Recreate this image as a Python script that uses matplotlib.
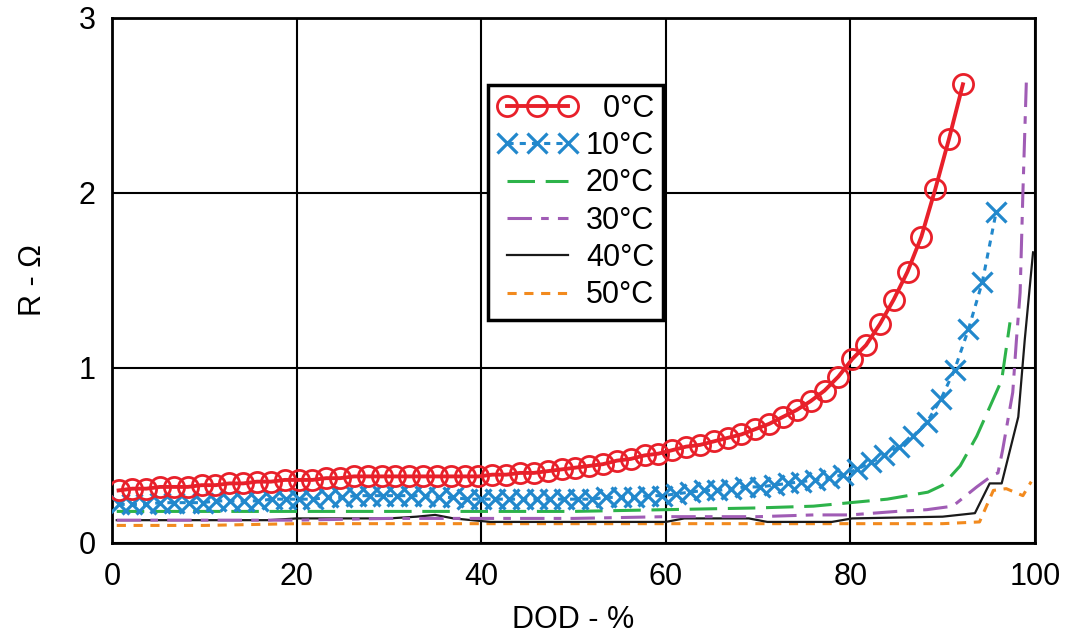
import matplotlib
matplotlib.use("Agg")
import matplotlib.pyplot as plt

plt.rcParams["font.family"] = ["Liberation Sans", "DejaVu Sans"]

# 0 degC
x_0c = [0.7, 2.2, 3.7, 5.2, 6.7, 8.2, 9.7, 11.2, 12.7, 14.2, 15.7, 17.2, 18.7, 20.2, 21.7,
        23.2, 24.7, 26.2, 27.7, 29.2, 30.7, 32.2, 33.7, 35.2, 36.7, 38.2, 39.7, 41.2, 42.7,
        44.2, 45.7, 47.2, 48.7, 50.2, 51.7, 53.2, 54.7, 56.2, 57.7, 59.2, 60.7, 62.2, 63.7,
        65.2, 66.7, 68.2, 69.7, 71.2, 72.7, 74.2, 75.7, 77.2, 78.7, 80.2, 81.7, 83.2, 84.7,
        86.2, 87.7, 89.2, 90.7, 92.2]
r_0c = [0.30, 0.31, 0.31, 0.32, 0.32, 0.32, 0.33, 0.33, 0.34, 0.34, 0.35, 0.35, 0.36, 0.36, 0.36,
        0.37, 0.37, 0.38, 0.38, 0.38, 0.38, 0.38, 0.38, 0.38, 0.38, 0.38, 0.38, 0.39, 0.39,
        0.40, 0.40, 0.41, 0.42, 0.43, 0.44, 0.45, 0.47, 0.48, 0.50, 0.51, 0.53, 0.55, 0.56,
        0.58, 0.60, 0.62, 0.65, 0.68, 0.72, 0.76, 0.81, 0.87, 0.95, 1.05, 1.13, 1.25, 1.39,
        1.55, 1.75, 2.02, 2.31, 2.62]

# 10 degC
x_10c = [0.7, 2.2, 3.7, 5.2, 6.7, 8.3, 9.8, 11.3, 12.8, 14.3, 15.8, 17.3, 18.8, 20.3, 21.8,
         23.4, 24.9, 26.4, 27.9, 29.4, 30.9, 32.4, 33.9, 35.4, 36.9, 38.5, 40.0, 41.5, 43.0,
         44.5, 46.0, 47.5, 49.0, 50.5, 52.0, 53.5, 55.1, 56.6, 58.1, 59.6, 61.1, 62.6, 64.1,
         65.6, 67.1, 68.6, 70.2, 71.7, 73.2, 74.7, 76.2, 77.7, 79.2, 80.7, 82.2, 83.7, 85.3,
         86.8, 88.3, 89.8, 91.3, 92.8, 94.3, 95.8]
r_10c = [0.22, 0.22, 0.22, 0.23, 0.23, 0.23, 0.23, 0.24, 0.24, 0.24, 0.24, 0.25, 0.25, 0.25, 0.25,
         0.26, 0.26, 0.27, 0.27, 0.27, 0.27, 0.27, 0.27, 0.26, 0.26, 0.25, 0.25, 0.25, 0.25,
         0.25, 0.25, 0.25, 0.25, 0.25, 0.25, 0.26, 0.26, 0.26, 0.27, 0.27, 0.28, 0.29, 0.30,
         0.30, 0.31, 0.32, 0.32, 0.33, 0.34, 0.35, 0.36, 0.37, 0.39, 0.42, 0.46, 0.50, 0.55,
         0.61, 0.69, 0.82, 0.99, 1.22, 1.49, 1.89]

# 20 degC
x_20c = [0.5, 10, 20, 30, 40, 50, 60, 70, 76, 80, 84, 88.4, 90.0, 91.9, 93.7, 94.8, 96.4, 97.3]
r_20c = [0.18, 0.18, 0.18, 0.18, 0.18, 0.18, 0.19, 0.20, 0.21, 0.23, 0.25, 0.29, 0.33, 0.44,
         0.61, 0.74, 0.93, 1.26]

# 30 degC
x_30c = [0.5, 10, 20, 30, 40, 50, 60, 70, 76, 80, 85, 88.3, 91.1, 93.7, 95.5, 96.0, 96.5,
         97.6, 98.0, 98.4, 98.7, 99.1]
r_30c = [0.13, 0.13, 0.13, 0.14, 0.14, 0.14, 0.15, 0.15, 0.16, 0.16, 0.18, 0.19, 0.21, 0.32,
         0.39, 0.40, 0.53, 0.86, 1.16, 1.43, 2.00, 2.68]

# 40 degC
x_40c = [0.5, 10, 17, 20, 30, 33, 35, 37, 41, 50, 60, 62, 69, 71, 78, 80.2, 90, 93.5,
         95.1, 96.4, 98.2, 98.9, 99.8]
r_40c = [0.13, 0.13, 0.13, 0.14, 0.14, 0.15, 0.16, 0.14, 0.12, 0.12, 0.12, 0.14, 0.14, 0.12,
         0.12, 0.14, 0.15, 0.17, 0.34, 0.34, 0.72, 1.16, 1.66]

# 50 degC
x_50c = [0.5, 10, 20, 30, 40, 50, 60, 70, 80, 90, 94.0, 95.5, 96.9, 98.7, 99.6]
r_50c = [0.10, 0.10, 0.11, 0.11, 0.11, 0.11, 0.11, 0.11, 0.11, 0.11, 0.12, 0.30, 0.31, 0.27, 0.35]

x_ticks = [0, 20, 40, 60, 80, 100]
y_ticks = [0, 1, 2, 3]

fig = plt.figure(figsize=(10.68, 6.35), dpi=100)
ax = fig.add_axes([0.105, 0.145, 0.864, 0.827])

ax.plot(x_50c, r_50c, color="#f28a1e", lw=2.2, dashes=(3, 2.5), label="50°C", zorder=3)
ax.plot(x_40c, r_40c, color="#1a1a1a", lw=1.6, label="40°C", zorder=4)
ax.plot(x_30c, r_30c, color="#a05cb5", lw=2.2, dashes=(8, 3, 2.5, 3), label="30°C", zorder=5)
ax.plot(x_20c, r_20c, color="#2db34a", lw=2.2, dashes=(9, 3.5), label="20°C", zorder=6)
ax.plot(x_10c, r_10c, color="#2288cc", lw=2.2, dashes=(2, 2), marker="x", ms=14, mew=2.3,
        label="10°C", zorder=7)
ax.plot(x_0c, r_0c, color="#e8202a", lw=2.8, marker="o", ms=14.5, mfc="none", mew=2.0,
        label="0°C", zorder=8)

ax.set_xlim(0, 100)
ax.set_ylim(0, 3)
ax.set_xticks(x_ticks)
ax.set_yticks(y_ticks)
ax.grid(True, color="black", lw=1.5)
ax.set_axisbelow(True)
ax.tick_params(length=0, labelsize=22)
ax.tick_params(axis="x", pad=14)
ax.tick_params(axis="y", pad=12)
for s in ax.spines.values():
    s.set_linewidth(2)
ax.set_xlabel("DOD - %", fontsize=22, labelpad=9)
ax.set_ylabel("R - Ω", fontsize=22, labelpad=22)

handles, labels = ax.get_legend_handles_labels()
handles = handles[::-1]
labels = ["\u2007" + labels[-1]] + labels[-2::-1]
leg = ax.legend(handles, labels, loc="upper left", bbox_to_anchor=(0.391, 0.902),
                fontsize=22, numpoints=3, handlelength=2.6, handletextpad=0.3,
                labelspacing=0.24, borderpad=0.3, fancybox=False, framealpha=1,
                edgecolor="black")
leg.get_frame().set_linewidth(2.5)
leg.set_zorder(10)

fig.savefig("out.png", dpi=100)
